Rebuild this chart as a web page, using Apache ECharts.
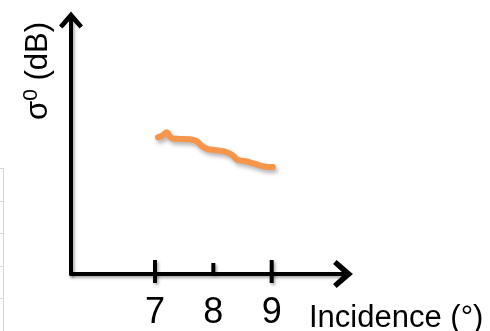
<!DOCTYPE html>
<html>
<head>
<meta charset="utf-8">
<script src="https://cdn.jsdelivr.net/npm/echarts@6/dist/echarts.min.js"></script>
<style>
  html, body { margin: 0; padding: 0; background: #fff; }
  #chart { width: 490px; height: 331px; }
</style>
</head>
<body>
<div id="chart"></div>
<script>
// Incidence angle (degrees) and backscatter sigma0 (dB) along the track
const incidence = [7.05, 7.13, 7.20, 7.28, 7.42, 7.60, 7.72, 7.80, 7.91, 8.05, 8.20, 8.33, 8.40, 8.60, 8.78, 8.90, 9.02];
const sigma0    = [-11.55, -11.35, -11.06, -11.62, -11.70, -11.74, -11.95, -12.40, -12.70, -12.82, -12.96, -13.30, -13.72, -13.96, -14.28, -14.45, -14.48];

// Tick marks and labels on the incidence axis
const tickValues = [7, 8, 9];
const xAxisTitle = 'Incidence (°)';
const yAxisTitle = ['σ', '0', ' (dB)'];

const X_MIN = 5.5604, X_MAX = 10.222;
const Y_MIN = -25, Y_MAX = 0;

const FONT = "'Liberation Sans', Arial, sans-serif";
const shadow = { shadowColor: 'rgba(0,0,0,0.35)', shadowBlur: 3, shadowOffsetX: 1.5, shadowOffsetY: 2 };
// open chevron arrow head (points up before the axis rotates it)
const chevron = 'path://M0,14 L12,0 L24,14 L20.5,17 L12,7.5 L3.5,17 Z';

const chart = echarts.init(document.getElementById('chart'), null, { renderer: 'canvas' });

chart.setOption({
  animation: false,
  backgroundColor: '#ffffff',
  grid: { left: 71, right: 147, top: 20, bottom: 55, containLabel: false },
  xAxis: {
    type: 'value',
    min: X_MIN,
    max: X_MAX,
    axisLine: {
      onZero: false,
      symbol: ['none', chevron],
      symbolSize: [28, 20],
      lineStyle: Object.assign({ color: '#000', width: 4 }, shadow)
    },
    axisTick: { show: false },
    splitLine: { show: false },
    axisLabel: {
      customValues: tickValues,
      color: '#000',
      fontSize: 36,
      fontFamily: FONT,
      margin: 21
    }
  },
  yAxis: {
    type: 'value',
    min: Y_MIN,
    max: Y_MAX,
    axisLine: {
      show: true,
      onZero: false,
      symbol: ['none', chevron],
      symbolSize: [24, 24],
      lineStyle: Object.assign({ color: '#000', width: 4 }, shadow)
    },
    axisTick: { show: false },
    axisLabel: { show: false },
    splitLine: { show: false }
  },
  graphic: [
    {
      type: 'text',
      x: 309,
      y: 303,
      style: { text: xAxisTitle, font: '31px ' + FONT, fill: '#000', textVerticalAlign: 'top' }
    },
    {
      type: 'text',
      x: 38,
      y: 71,
      rotation: Math.PI / 2,
      style: {
        text: '{s|' + yAxisTitle[0] + '}{p|' + yAxisTitle[1] + '}{s|' + yAxisTitle[2] + '}',
        align: 'center',
        verticalAlign: 'middle',
        fill: '#000',
        rich: {
          s: { fontSize: 31, fontFamily: FONT, color: '#000', lineHeight: 34 },
          p: { fontSize: 21, fontFamily: FONT, color: '#000', lineHeight: 34, verticalAlign: 'top' }
        }
      }
    },
    // faint frame edge on the left margin
    {
      type: 'group',
      silent: true,
      children: [
        { type: 'line', shape: { x1: 3.5, y1: 168, x2: 3.5, y2: 331 }, style: { stroke: '#d4d4d4', lineWidth: 1 } },
        { type: 'line', shape: { x1: 0, y1: 168.5, x2: 4, y2: 168.5 }, style: { stroke: '#d4d4d4', lineWidth: 1 } },
        { type: 'line', shape: { x1: 0, y1: 201.5, x2: 3, y2: 201.5 }, style: { stroke: '#dcdcdc', lineWidth: 1 } },
        { type: 'line', shape: { x1: 0, y1: 233.5, x2: 3, y2: 233.5 }, style: { stroke: '#dcdcdc', lineWidth: 1 } },
        { type: 'line', shape: { x1: 0, y1: 266.5, x2: 3, y2: 266.5 }, style: { stroke: '#dcdcdc', lineWidth: 1 } },
        { type: 'line', shape: { x1: 0, y1: 298.5, x2: 3, y2: 298.5 }, style: { stroke: '#dcdcdc', lineWidth: 1 } }
      ]
    }
  ],
  series: [
    {
      type: 'line',
      data: incidence.map((x, i) => [x, sigma0[i]]),
      symbol: 'none',
      smooth: 0.25,
      lineStyle: Object.assign({ color: '#F7964A', width: 6, cap: 'round', join: 'round' },
        { shadowColor: 'rgba(0,0,0,0.3)', shadowBlur: 4, shadowOffsetX: 2, shadowOffsetY: 3 })
    },
    {
      // tick marks: end ticks cross the axis, the middle one sits above it
      type: 'custom',
      clip: false,
      data: tickValues.map(v => [v, Y_MIN]),
      renderItem: function (params, api) {
        const p = api.coord([api.value(0), api.value(1)]);
        const end = params.dataIndex === 0 || params.dataIndex === tickValues.length - 1;
        const up = end ? 14 : 11;
        const down = end ? 9 : 0;
        return {
          type: 'line',
          shape: { x1: p[0], y1: p[1] - up, x2: p[0], y2: p[1] + down },
          style: Object.assign({ stroke: '#000', lineWidth: 4 }, shadow)
        };
      }
    }
  ]
});
</script>
</body>
</html>
